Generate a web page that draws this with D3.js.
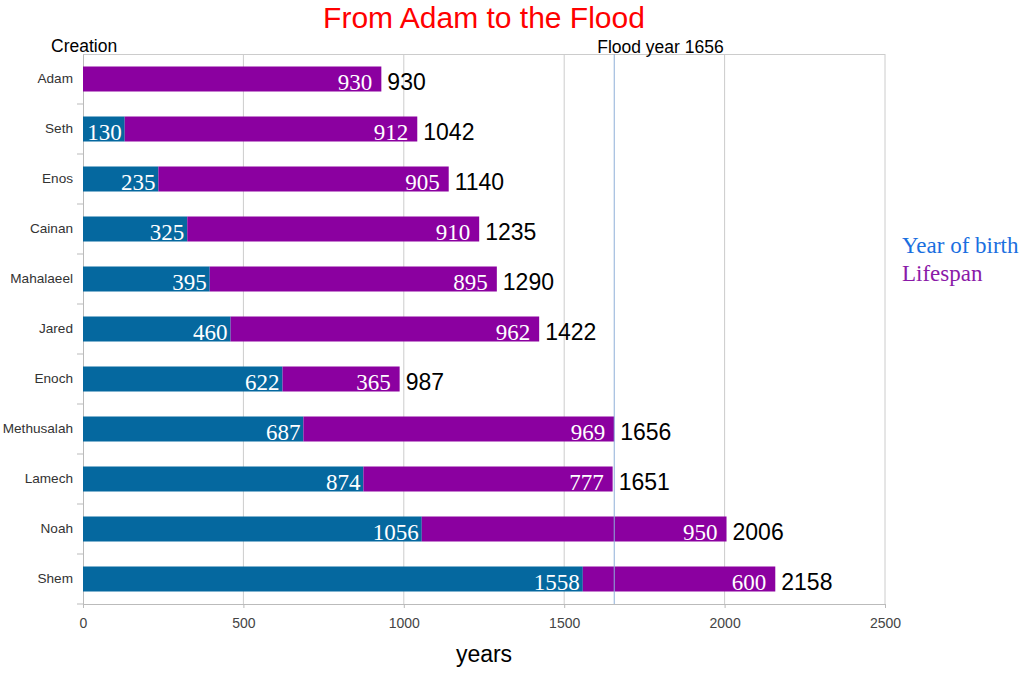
<!DOCTYPE html>
<html>
<head>
<meta charset="utf-8">
<script src="https://cdn.jsdelivr.net/npm/d3@7"></script>
<style>
  body { margin: 0; background: #fff; }
  svg { display: block; }
</style>
</head>
<body>
<div id="chart"></div>
<script>
// data
let names = ["Adam", "Seth", "Enos", "Cainan", "Mahalaeel", "Jared", "Enoch", "Methusalah", "Lamech", "Noah", "Shem"];
let birthYear = [0, 130, 235, 325, 395, 460, 622, 687, 874, 1056, 1558];
let lifespan = [930, 912, 905, 910, 895, 962, 365, 969, 777, 950, 600];
let xTicks = [0, 500, 1000, 1500, 2000, 2500];
let floodYear = 1656;

let width = 1024, height = 693,
    margin = {top: 54, right: 139, bottom: 89, left: 83};

let blue = "#05689f", purple = "#8b00a0";

let svg = d3.select("#chart").append("svg")
    .attr("width", width)
    .attr("height", height);

let x = d3.scaleLinear()
    .domain([0, 2500])
    .range([margin.left, width - margin.right]);

let y = d3.scaleBand()
    .domain(names)
    .range([margin.top, height - margin.bottom])
    .paddingInner(0.5)
    .paddingOuter(0.25);

let rows = names.map(function (n, i) {
    return {name: n, birth: birthYear[i], life: lifespan[i], total: birthYear[i] + lifespan[i]};
});

// grid lines
svg.append("g")
    .selectAll("line")
    .data(xTicks.slice(1))
    .enter().append("line")
    .attr("x1", d => x(d)).attr("x2", d => x(d))
    .attr("y1", margin.top).attr("y2", height - margin.bottom)
    .attr("stroke", "#cccccc")
    .attr("stroke-width", 1);

// top border
svg.append("line")
    .attr("x1", x(0)).attr("x2", x(2500))
    .attr("y1", margin.top + 0.5).attr("y2", margin.top + 0.5)
    .attr("stroke", "#cccccc");

// x axis
let xAxis = svg.append("g")
    .attr("transform", "translate(0," + (height - margin.bottom) + ")")
    .call(d3.axisBottom(x).tickValues(xTicks).tickSize(4).tickPadding(10).tickFormat(d3.format("d")));
xAxis.select(".domain").attr("stroke", "#bbbbbb");
xAxis.selectAll(".tick line").attr("stroke", "#bbbbbb");
xAxis.selectAll("text")
    .attr("fill", "#444")
    .style("font-family", "Liberation Sans, Arial, sans-serif")
    .style("font-size", "14px");

// y axis, ticks at band boundaries
let yAxis = svg.append("g")
    .attr("transform", "translate(" + margin.left + ",0)")
    .call(d3.axisLeft(y).tickSize(0).tickPadding(10));
yAxis.select(".domain").attr("stroke", "#bbbbbb");
yAxis.selectAll("text")
    .attr("fill", "#333")
    .style("font-family", "Liberation Sans, Arial, sans-serif")
    .style("font-size", "13.6px");
let step = y.step();
svg.append("g")
    .selectAll("line")
    .data(names)
    .enter().append("line")
    .attr("x1", margin.left - 6).attr("x2", margin.left)
    .attr("y1", d => y(d) + y.bandwidth() / 2 + step / 2)
    .attr("y2", d => y(d) + y.bandwidth() / 2 + step / 2)
    .attr("stroke", "#bbbbbb");

// bars: year of birth
svg.append("g")
    .selectAll("rect")
    .data(rows)
    .enter().append("rect")
    .attr("x", x(0))
    .attr("y", d => y(d.name))
    .attr("width", d => x(d.birth) - x(0))
    .attr("height", y.bandwidth())
    .attr("fill", blue);

// bars: lifespan
svg.append("g")
    .selectAll("rect")
    .data(rows)
    .enter().append("rect")
    .attr("x", d => x(d.birth))
    .attr("y", d => y(d.name))
    .attr("width", d => x(d.total) - x(d.birth))
    .attr("height", y.bandwidth())
    .attr("fill", purple);

// flood line
svg.append("line")
    .attr("x1", x(floodYear)).attr("x2", x(floodYear))
    .attr("y1", margin.top).attr("y2", height - margin.bottom)
    .attr("stroke", "#8fb0d8")
    .attr("stroke-width", 1);

let labelBase = d => y(d.name) + y.bandwidth() / 2 + 11;

// in-bar labels
svg.append("g")
    .selectAll("text")
    .data(rows.filter(d => d.birth > 0))
    .enter().append("text")
    .attr("x", d => x(d.birth) - 3)
    .attr("y", labelBase)
    .attr("text-anchor", "end")
    .attr("fill", "#fff")
    .style("font-family", "Liberation Serif, Times New Roman, serif")
    .style("font-size", "23px")
    .text(d => d.birth);

svg.append("g")
    .selectAll("text")
    .data(rows)
    .enter().append("text")
    .attr("x", d => x(d.total) - 9)
    .attr("y", labelBase)
    .attr("text-anchor", "end")
    .attr("fill", "#fff")
    .style("font-family", "Liberation Serif, Times New Roman, serif")
    .style("font-size", "23px")
    .text(d => d.life);

// totals
svg.append("g")
    .selectAll("text")
    .data(rows)
    .enter().append("text")
    .attr("x", d => x(d.total) + 6)
    .attr("y", labelBase)
    .attr("fill", "#000")
    .style("font-family", "Liberation Sans, Arial, sans-serif")
    .style("font-size", "23px")
    .text(d => d.total);

// title and annotations
svg.append("text")
    .attr("x", (x(0) + x(2500)) / 2)
    .attr("y", 28)
    .attr("text-anchor", "middle")
    .attr("fill", "#ff0000")
    .style("font-family", "Liberation Sans, Arial, sans-serif")
    .style("font-size", "30px")
    .text("From Adam to the Flood");

svg.append("text")
    .attr("x", 51).attr("y", 52)
    .style("font-family", "Liberation Sans, Arial, sans-serif")
    .style("font-size", "17.5px")
    .text("Creation");

svg.append("text")
    .attr("x", x(floodYear) - 17).attr("y", 53)
    .style("font-family", "Liberation Sans, Arial, sans-serif")
    .style("font-size", "17.5px")
    .text("Flood year " + floodYear);

svg.append("text")
    .attr("x", (x(0) + x(2500)) / 2)
    .attr("y", 662)
    .attr("text-anchor", "middle")
    .style("font-family", "Liberation Sans, Arial, sans-serif")
    .style("font-size", "23px")
    .text("years");

// legend
let legend = [["Year of birth", "#1a6fe0"], ["Lifespan", "#8b1aa8"]];
svg.append("g")
    .selectAll("text")
    .data(legend)
    .enter().append("text")
    .attr("x", 902)
    .attr("y", (d, i) => 253 + i * 28)
    .attr("fill", d => d[1])
    .style("font-family", "Liberation Serif, Times New Roman, serif")
    .style("font-size", "23px")
    .text(d => d[0]);
</script>
</body>
</html>
